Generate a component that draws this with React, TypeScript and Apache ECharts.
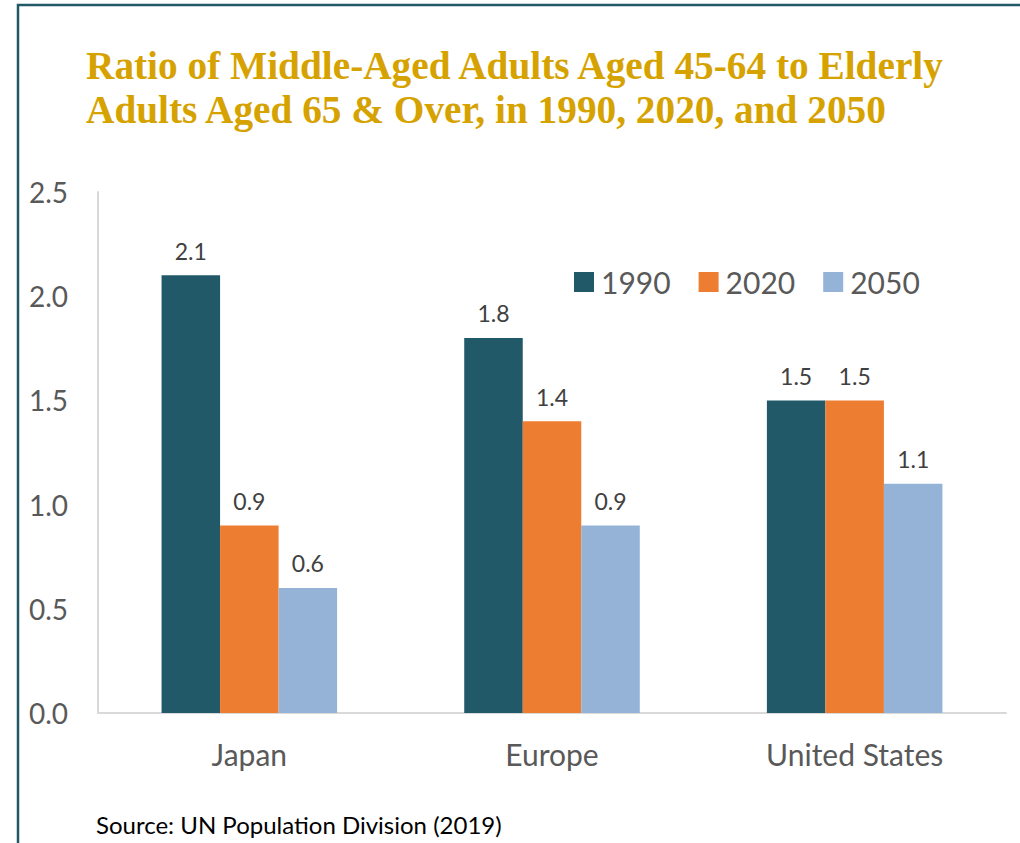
import React, { useEffect, useRef } from "react";
import * as echarts from "echarts";

const categories = ["Japan", "Europe", "United States"];
const seriesNames = ["1990", "2020", "2050"];
const values1990 = [2.1, 1.8, 1.5];
const values2020 = [0.9, 1.4, 1.5];
const values2050 = [0.6, 0.9, 1.1];
const colors = ["#215968", "#ED7D31", "#95B3D7"];
const titleLines = [
  "Ratio of Middle-Aged Adults Aged 45-64 to Elderly",
  "Adults Aged 65 & Over, in 1990, 2020, and 2050",
];
const sourceText = "Source: UN Population Division (2019)";

export default function App() {
  const ref = useRef<HTMLDivElement>(null);
  useEffect(() => {
    if (!ref.current) return;
    const chart = echarts.init(ref.current, null, { renderer: "svg" });
    const data = [values1990, values2020, values2050];
    chart.setOption({
      animation: false,
      backgroundColor: "#ffffff",
      grid: { left: 98, right: 14, top: 192, bottom: 130, containLabel: false },
      legend: {
        data: seriesNames,
        left: 569,
        top: 262,
        itemWidth: 20,
        itemHeight: 20,
        itemGap: 28,
        icon: "rect",
        textStyle: { fontFamily: "Lato", fontSize: 30, color: "#595959", padding: [0, 0, 0, 2] },
      },
      xAxis: {
        type: "category",
        data: categories,
        axisLine: { lineStyle: { color: "#d9d9d9", width: 2 } },
        axisTick: { show: false },
        axisLabel: { fontFamily: "Lato", fontSize: 30, color: "#595959", margin: 26 },
      },
      yAxis: {
        type: "value",
        min: 0,
        max: 2.5,
        interval: 0.5,
        splitLine: { show: false },
        axisLine: { show: true, lineStyle: { color: "#d9d9d9", width: 2 } },
        axisTick: { show: false },
        axisLabel: {
          fontFamily: "Lato",
          fontSize: 28,
          color: "#595959",
          margin: 30,
          formatter: (v: number) => v.toFixed(1),
        },
      },
      series: seriesNames.map((name, i) => ({
        name,
        type: "bar",
        data: data[i],
        barGap: "0%",
        barCategoryGap: "42%",
        itemStyle: { color: colors[i] },
        label: {
          show: true,
          position: "top",
          distance: 13,
          fontFamily: "Lato",
          fontSize: 23,
          color: "#404040",
          formatter: (p: any) => Number(p.value).toFixed(1),
        },
      })),
      graphic: [
        {
          type: "polyline",
          shape: { points: [[18, 843], [18, 5], [1020, 5]] },
          style: { stroke: "#215968", lineWidth: 2.5, fill: null },
        },
        {
          type: "text",
          left: 86,
          top: 44,
          style: {
            text: titleLines.join("\n"),
            fontFamily: "Liberation Serif",
            fontWeight: "bold",
            fontSize: 39.3,
            lineHeight: 44,
            fill: "#D6A200",
          },
        },
        {
          type: "text",
          left: 96,
          top: 812,
          style: {
            text: sourceText,
            fontFamily: "Lato",
            fontSize: 24,
            fill: "#000000",
          },
        },
      ],
    });
    return () => chart.dispose();
  }, []);
  return (
    <div
      ref={ref}
      style={{ position: "fixed", left: 0, top: 0, width: 1020, height: 843 }}
    />
  );
}
